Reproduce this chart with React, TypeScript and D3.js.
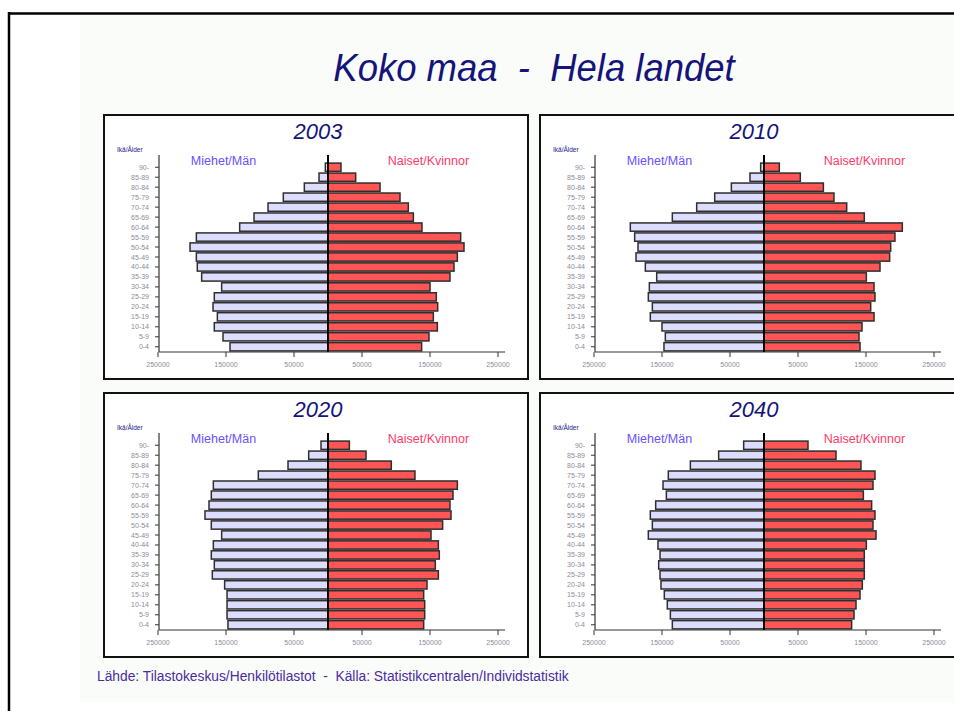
import React from "react";
import * as d3 from "d3";

const ageGroups = ["90-", "85-89", "80-84", "75-79", "70-74", "65-69", "60-64", "55-59", "50-54", "45-49", "40-44", "35-39", "30-34", "25-29", "20-24", "15-19", "10-14", "5-9", "0-4"];

const years = ["2003", "2010", "2020", "2040"];

const men2003 = [3900, 13200, 34800, 65700, 88200, 108800, 129900, 193600, 202900, 193600, 192200, 185800, 156400, 167200, 169100, 162700, 167200, 154400, 144100];
const women2003 = [19100, 40700, 76500, 105900, 118100, 125500, 138200, 195100, 200000, 190200, 185300, 179400, 150000, 159300, 161300, 154900, 160800, 148500, 137700];

const men2010 = [4900, 20600, 48000, 72500, 99000, 134800, 196600, 190200, 185300, 188200, 174500, 157800, 168600, 170100, 164200, 167200, 150000, 145100, 147100];
const women2010 = [22500, 53400, 87300, 102900, 121600, 147500, 203400, 192600, 186300, 184800, 170600, 150500, 161800, 163200, 156900, 161800, 144100, 139700, 141200];

const men2020 = [10300, 28400, 58800, 102500, 168600, 171600, 175000, 180900, 171600, 156400, 168600, 171600, 167200, 170100, 152000, 148500, 148500, 148500, 147100];
const women2020 = [31400, 55900, 93100, 127900, 190200, 183800, 179400, 180900, 168600, 151500, 162300, 163700, 157800, 162300, 145600, 140700, 142200, 142200, 140700];

const men2040 = [29900, 66700, 108300, 140700, 148500, 143600, 159300, 167200, 164200, 170100, 155900, 152900, 154900, 152900, 151500, 146600, 142200, 137700, 134800];
const women2040 = [64700, 105900, 142600, 163200, 160300, 146100, 158300, 163200, 160300, 164700, 150500, 147500, 147500, 147500, 144600, 141200, 135300, 132400, 128900];

const tickValues = [50000, 150000, 250000];

const mainTitle = "Koko maa  -  Hela landet";
const menLabel = "Miehet/Män";
const womenLabel = "Naiset/Kvinnor";
const ageLabel = "Ikä/Ålder";
const sourceText = "Lähde: Tilastokeskus/Henkilötilastot  -  Källa: Statistikcentralen/Individstatistik";

const menSeries = [men2003, men2010, men2020, men2040];
const womenSeries = [women2003, women2010, women2020, women2040];

const PW = 424;
const PH = 264;
const panelPos = [
  [104, 115],
  [540, 115],
  [104, 393],
  [540, 393],
];

const FONT = "Arial, 'Liberation Sans', Helvetica, sans-serif";
const PRE = { whiteSpace: "pre" as const };

function Panel({ x, y, year, men, women }: { x: number; y: number; year: string; men: number[]; women: number[] }) {
  const center = 224;
  const xMen = d3.scaleLinear().domain([0, 250000]).range([center, center - 170]);
  const xWomen = d3.scaleLinear().domain([0, 250000]).range([center, center + 170]);
  const yScale = d3.scaleBand<string>().domain(ageGroups).range([47.3, 236.7]).paddingInner(0.17).paddingOuter(0.08);
  const axisY = 237;
  const axisTop = 40;
  const axisLeft = 55;
  const axisRight = 401;
  return (
    <g transform={`translate(${x},${y})`}>
      <rect x={0} y={0} width={PW} height={PH} fill="#ffffff" stroke="#111" strokeWidth={2} />
      <text x={214} y={24} textAnchor="middle" fontFamily={FONT} fontStyle="italic" fontSize={22} fill="#14147a">
        {year}
      </text>
      <text x={13} y={37} fontFamily={FONT} fontSize={6.5} fill="#20208a">
        {ageLabel}
      </text>
      <text x={119.5} y={50} textAnchor="middle" fontFamily={FONT} fontSize={12.5} fill="#6a50ff">
        {menLabel}
      </text>
      <text x={324.5} y={50} textAnchor="middle" fontFamily={FONT} fontSize={12.5} fill="#ff3a6a">
        {womenLabel}
      </text>
      {ageGroups.map((a, i) => {
        const by = yScale(a)!;
        const bh = yScale.bandwidth();
        return (
          <g key={a}>
            <rect x={xMen(men[i])} y={by} width={center - xMen(men[i])} height={bh} fill="#dcdcff" stroke="#2e2e2e" strokeWidth={1.5} />
            <rect x={center} y={by} width={xWomen(women[i]) - center} height={bh} fill="#ff5555" stroke="#2e2e2e" strokeWidth={1.5} />
            <line x1={axisLeft - 4} x2={axisLeft} y1={by + bh / 2} y2={by + bh / 2} stroke="#333" strokeWidth={1} />
            <text x={45} y={by + bh / 2 + 2.5} textAnchor="end" fontFamily={FONT} fontSize={7} fill="#8c8c98">
              {a}
            </text>
          </g>
        );
      })}
      <line x1={axisLeft} x2={axisLeft} y1={axisTop} y2={axisY} stroke="#333" strokeWidth={1.2} />
      <line x1={axisLeft} x2={axisRight} y1={axisY} y2={axisY} stroke="#333" strokeWidth={1.2} />
      <line x1={center} x2={center} y1={axisTop} y2={axisY} stroke="#000" strokeWidth={2} />
      {tickValues.map((t) => (
        <g key={"m" + t}>
          <line x1={xMen(t)} x2={xMen(t)} y1={axisY} y2={axisY + 5} stroke="#333" strokeWidth={1} />
          <text x={xMen(t)} y={252} textAnchor="middle" fontFamily={FONT} fontSize={7} fill="#8c8c98">
            {t}
          </text>
        </g>
      ))}
      {tickValues.map((t) => (
        <g key={"w" + t}>
          <line x1={xWomen(t)} x2={xWomen(t)} y1={axisY} y2={axisY + 5} stroke="#333" strokeWidth={1} />
          <text x={xWomen(t)} y={252} textAnchor="middle" fontFamily={FONT} fontSize={7} fill="#8c8c98">
            {t}
          </text>
        </g>
      ))}
    </g>
  );
}

export default function App() {
  return (
    <svg width={954} height={711} style={{ position: "absolute", left: 0, top: 0, background: "#ffffff" }}>
      <rect x={80} y={15} width={880} height={687} fill="#fafcfa" />
      <line x1={8} x2={960} y1={13.5} y2={13.5} stroke="#000" strokeWidth={2.5} />
      <line x1={9} x2={9} y1={12} y2={711} stroke="#000" strokeWidth={2.5} />
      <text x={534} y={81} textAnchor="middle" fontFamily={FONT} fontStyle="italic" fontSize={38} fill="#14147a" style={PRE} transform="translate(534,0) scale(0.96,1) translate(-534,0)">
        {mainTitle}
      </text>
      {years.map((yr, i) => (
        <Panel key={yr} x={panelPos[i][0]} y={panelPos[i][1]} year={yr} men={menSeries[i]} women={womenSeries[i]} />
      ))}
      <text x={97} y={681} fontFamily={FONT} fontSize={13.8} fill="#4a2ca0" style={PRE}>
        {sourceText}
      </text>
    </svg>
  );
}
